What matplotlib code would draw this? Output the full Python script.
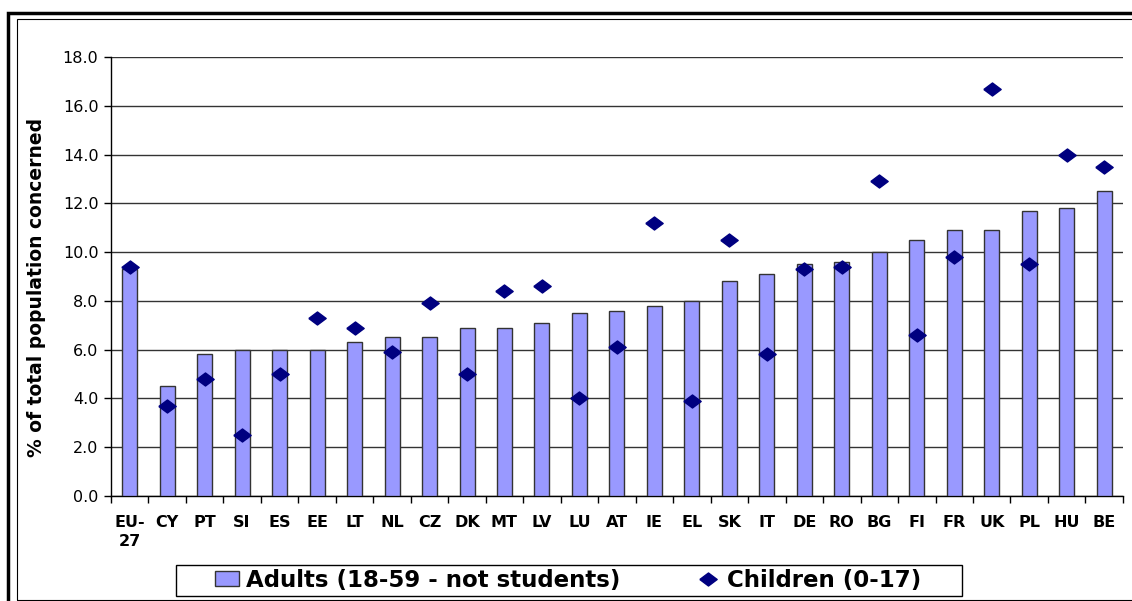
import matplotlib
matplotlib.use("Agg")
import matplotlib.pyplot as plt
import numpy as np
from matplotlib.patches import Rectangle

# values
countries = ["EU-\n27", "CY", "PT", "SI", "ES", "EE", "LT", "NL", "CZ", "DK", "MT", "LV",
             "LU", "AT", "IE", "EL", "SK", "IT", "DE", "RO", "BG", "FI", "FR", "UK",
             "PL", "HU", "BE"]
adults = [9.3, 4.5, 5.8, 6.0, 6.0, 6.0, 6.3, 6.5, 6.5, 6.9, 6.9, 7.1,
          7.5, 7.6, 7.8, 8.0, 8.8, 9.1, 9.5, 9.6, 10.0, 10.5, 10.9, 10.9,
          11.7, 11.8, 12.5]
children = [9.4, 3.7, 4.8, 2.5, 5.0, 7.3, 6.9, 5.9, 7.9, 5.0, 8.4, 8.6,
            4.0, 6.1, 11.2, 3.9, 10.5, 5.8, 9.3, 9.4, 12.9, 6.6, 9.8, 16.7,
            9.5, 14.0, 13.5]
y_ticks = [0, 2, 4, 6, 8, 10, 12, 14, 16, 18]

plt.rcParams['font.family'] = ['DejaVu Sans']

fig = plt.figure(figsize=(11.32, 6.01), dpi=100)
ax = fig.add_axes([0.098, 0.175, 0.894, 0.730])

# slightly wide diamond, like the Excel marker
diamond = [(-1, 0), (0, 0.75), (1, 0), (0, -0.75), (-1, 0)]

x = np.arange(len(countries))
bars = ax.bar(x, adults, width=0.4, color="#9999FF", edgecolor="#333333", linewidth=1.0,
              label="Adults (18-59 - not students)", zorder=3)
pts, = ax.plot(x, children, linestyle="none", marker=diamond, markersize=12.5,
               color="#000080", label="Children (0-17)", zorder=4)

ax.set_xlim(-0.5, len(countries) - 0.5)
ax.set_ylim(0, 18)
ax.set_yticks(y_ticks)
ax.set_yticklabels([f"{v:.1f}" for v in y_ticks], fontsize=11.5)
ax.yaxis.grid(True, color="#333333", linewidth=1.0, zorder=0)
ax.set_axisbelow(True)

ax.set_xticks(x)
ax.set_xticklabels(countries, fontsize=11.5, fontweight="bold", linespacing=1.3)
ax.set_xticks(np.arange(-0.5, len(countries)), minor=True)
ax.tick_params(axis="x", which="major", length=0, pad=14)
ax.tick_params(axis="x", which="minor", length=5, width=1, direction="out")
ax.tick_params(axis="y", length=5, width=1, direction="out", pad=4)

for s in ["top", "right"]:
    ax.spines[s].set_visible(False)
for s in ["left", "bottom"]:
    ax.spines[s].set_color("black")
    ax.spines[s].set_linewidth(1.0)

ax.set_ylabel("% of total population concerned", fontsize=13.5, fontweight="bold")
ax.yaxis.set_label_coords(-0.064, 0.476)

# legend without its own frame, box drawn separately
leg = fig.legend([bars, pts], ["Adults (18-59 - not students)", "Children (0-17)"],
                 loc="center left", bbox_to_anchor=(215 / 1132, 1 - 580 / 601),
                 ncol=2, frameon=False, borderpad=0, borderaxespad=0,
                 prop={"size": 16.5, "weight": "bold"}, handlelength=1.05,
                 handleheight=0.65, handletextpad=0.3, columnspacing=3.3)
fig.patches.append(Rectangle((176 / 1132, 1 - 596 / 601), 786 / 1132, 31 / 601,
                             transform=fig.transFigure, fill=False, edgecolor="black",
                             linewidth=1.0))

# double frame around the chart (runs off the right and bottom edges)
fig.patches.append(Rectangle((8 / 1132, -0.05), 1.1, 1 - 13 / 601 + 0.05, transform=fig.transFigure,
                             fill=False, edgecolor="black", linewidth=2.5))
fig.patches.append(Rectangle((17 / 1132, 1 / 601), 1.1, 1 - 20 / 601, transform=fig.transFigure,
                             fill=False, edgecolor="black", linewidth=0.8))

fig.savefig("out.png", dpi=100)
